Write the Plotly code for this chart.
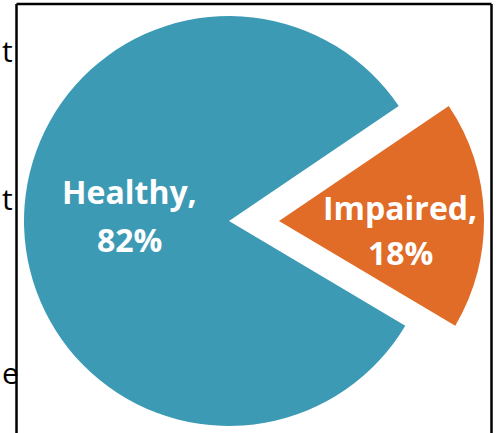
import plotly.graph_objects as go

labels = ["Impaired", "Healthy"]
values = [18, 82]
colors = ["#E06C27", "#3D9AB5"]
side_text = ["t", "t", "e"]
side_text_y = [50, 198, 372]

W, H = 499, 433
R = 205
cy = 221
centers_x = {"Healthy": 229, "Impaired": 279}
# label placement (pixel centres of each text line)
label_pos = {"Healthy": (129, 191, 240), "Impaired": (400, 207, 252)}

imp_frac = values[0] / sum(values)
rotation = 90 - 1.7 - imp_frac * 360 / 2

fig = go.Figure()
annotations = []
for i, lab in enumerate(labels):
    cx = centers_x[lab]
    cols = [c if labels[j] == lab else "rgba(0,0,0,0)" for j, c in enumerate(colors)]
    fig.add_trace(go.Pie(
        labels=labels, values=values, sort=False, direction="clockwise",
        rotation=rotation,
        marker=dict(colors=cols, line=dict(width=0)),
        textinfo="none",
        hoverinfo="skip", showlegend=False,
        domain=dict(x=[(cx - R) / W, (cx + R) / W],
                    y=[(H - cy - R) / H, (H - cy + R) / H]),
    ))
    pct = round(100 * values[i] / sum(values))
    lx, ly1, ly2 = label_pos[lab]
    for txt, ly in [(f"{lab},", ly1), (f"{pct}%", ly2)]:
        annotations.append(dict(
            text=txt, x=lx / W, y=(H - ly) / H, xref="paper", yref="paper",
            xanchor="center", yanchor="middle", showarrow=False,
            font=dict(family="Open Sans", size=32, color="white", weight="bold")))

shapes = [
    dict(type="line", xref="paper", yref="paper", x0=16.5 / W, x1=16.5 / W, y0=-0.1, y1=(H - 4) / H,
         line=dict(color="black", width=2.5)),
    dict(type="line", xref="paper", yref="paper", x0=16.5 / W, x1=491.5 / W, y0=(H - 4) / H, y1=(H - 4) / H,
         line=dict(color="black", width=2.5)),
    dict(type="line", xref="paper", yref="paper", x0=491.5 / W, x1=491.5 / W, y0=-0.1, y1=(H - 4) / H,
         line=dict(color="black", width=2.5)),
]
for t, yy in zip(side_text, side_text_y):
    annotations.append(dict(
        text=t, x=0, y=(H - yy) / H, xref="paper", yref="paper", xanchor="left", yanchor="middle",
        showarrow=False, font=dict(family="Open Sans", size=30, color="black")))

fig.update_layout(width=W, height=H, margin=dict(l=0, r=0, t=0, b=0),
                  paper_bgcolor="white", plot_bgcolor="white",
                  shapes=shapes, annotations=annotations)
fig.write_html("out.html")
